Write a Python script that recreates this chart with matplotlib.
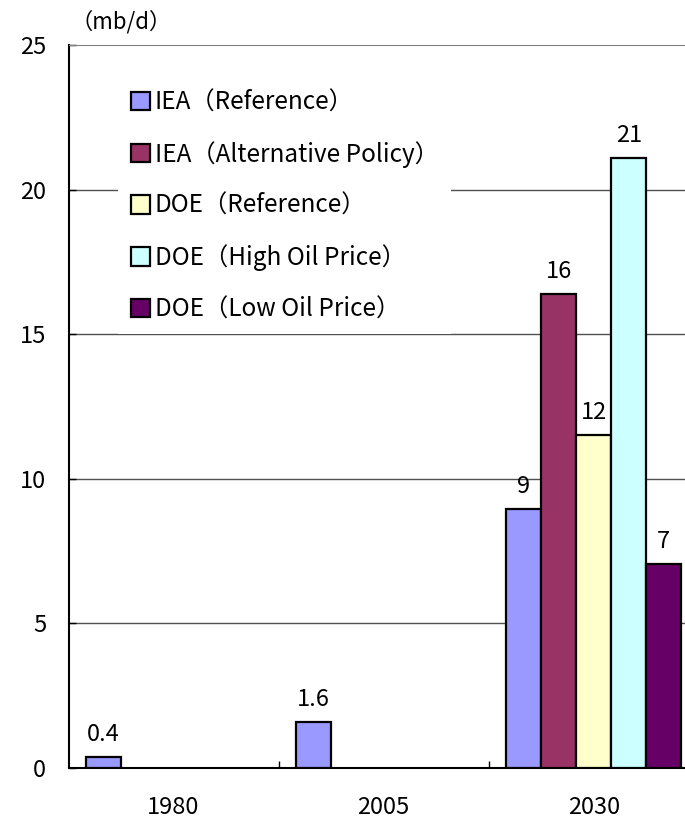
import numpy as np
import matplotlib
matplotlib.use("Agg")
import matplotlib.pyplot as plt

plt.rcParams["font.family"] = ["Noto Sans CJK JP", "DejaVu Sans"]

years = ["1980", "2005", "2030"]
series_names = [
    "IEA（Reference）",
    "IEA（Alternative Policy）",
    "DOE（Reference）",
    "DOE（High Oil Price）",
    "DOE（Low Oil Price）",
]
iea_ref = [0.38, 1.6, 8.95]
iea_alt = [np.nan, np.nan, 16.4]
doe_ref = [np.nan, np.nan, 11.5]
doe_high = [np.nan, np.nan, 21.1]
doe_low = [np.nan, np.nan, 7.05]
bar_labels = [
    ["0.4", "1.6", "9"],
    ["", "", "16"],
    ["", "", "12"],
    ["", "", "21"],
    ["", "", "7"],
]
colors = ["#9999FF", "#993366", "#FFFFCC", "#CCFFFF", "#660066"]

series = [iea_ref, iea_alt, doe_ref, doe_high, doe_low]

fig = plt.figure(figsize=(6.85, 8.18), dpi=100)
ax = fig.add_axes([0.100, 0.061, 0.920, 0.884])

x = np.arange(len(years))
width = 1 / 6
for j, (vals, name, col) in enumerate(zip(series, series_names, colors)):
    pos = x - 1 / 3 + j * width
    bars = ax.bar(pos, vals, width, color=col, edgecolor="black",
                  linewidth=1.6, label=name, zorder=3)
    for b, v, txt in zip(bars, vals, bar_labels[j]):
        if txt and not np.isnan(v):
            ax.annotate(txt, (b.get_x() + b.get_width() / 2, v),
                        xytext=(0, 8), textcoords="offset points",
                        ha="center", va="bottom", fontsize=17)

ax.set_xlim(-0.5, 2.5)
ax.set_ylim(0, 25)
ax.set_yticks([0, 5, 10, 15, 20, 25])
ax.set_xticks(x)
ax.set_xticklabels(years)
ax.set_xticks([0.5, 1.5], minor=True)
ax.tick_params(axis="x", which="major", length=0, pad=20, labelsize=17)
ax.tick_params(axis="x", which="minor", direction="in", length=5, width=1)
ax.tick_params(axis="y", direction="in", length=5, width=1, pad=16, labelsize=17)

for yv in [5, 10, 15, 20]:
    ax.axhline(yv, color="#505050", linewidth=1, zorder=1)

ax.spines["top"].set_color("#808080")
ax.spines["left"].set_linewidth(1.5)
ax.spines["bottom"].set_linewidth(1.5)

leg = ax.legend(loc="upper left", bbox_to_anchor=(0.060, 0.972),
                frameon=True, fancybox=False, framealpha=1,
                facecolor="white", edgecolor="none", fontsize=17.5,
                handlelength=0.8, handleheight=0.8, handletextpad=0.2,
                labelspacing=1.04, borderpad=0.5)
leg.set_zorder(5)

fig.text(70 / 685, 1 - 22 / 818, "（mb/d）", ha="left", va="center", fontsize=16)

fig.savefig("out.png", dpi=100)
